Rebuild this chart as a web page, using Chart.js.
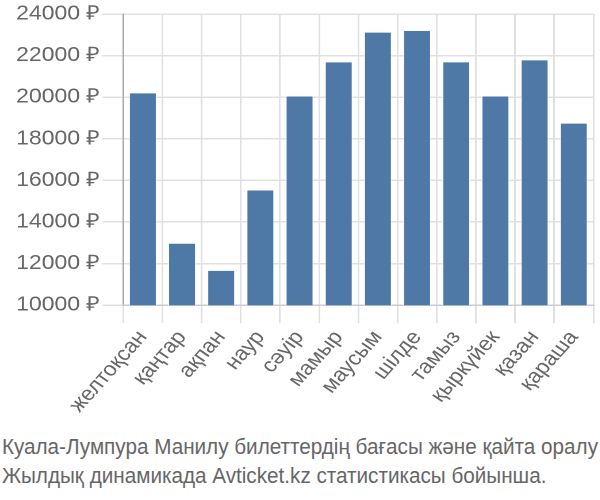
<!DOCTYPE html>
<html>
<head>
<meta charset="utf-8">
<script src="https://cdn.jsdelivr.net/npm/chart.js@4/dist/chart.umd.min.js"></script>
<style>
  html, body { margin: 0; padding: 0; background: #fff; overflow: hidden; }
  /* the chart in the reference is drawn a bit wider than its fonts, so stretch it */
  #wrap {
    position: relative;
    width: 522px;
    height: 420px;
    transform: scaleX(1.15);
    transform-origin: 0 0;
  }
  #caption {
    font-family: "Liberation Sans", sans-serif;
    font-size: 22px;
    color: #666;
    line-height: 29px;
    margin-top: 12px;
    white-space: nowrap;
    display: inline-block;
    transform-origin: 0 0;
    padding-left: 2px;
  }
</style>
</head>
<body>
<div id="wrap"><canvas id="chart"></canvas></div>
<div id="caption">Куала-Лумпура Манилу билеттердің бағасы және қайта оралу<br>Жылдық динамикада Avticket.kz статистикасы бойынша.</div>
<script>
  const months = ["желтоқсан", "қаңтар", "ақпан", "наур", "сәуір", "мамыр",
    "маусым", "шілде", "тамыз", "қыркүйек", "қазан", "қараша"];
  const prices = [20230, 13000, 11700, 15560, 20080, 21720,
    23150, 23230, 21720, 20080, 21820, 18780];
  const yMin = 10000;
  const yMax = 24000;
  const yStep = 2000;

  document.addEventListener("DOMContentLoaded", function () {
    // squeeze the caption so its first line fits the page width
    const caption = document.getElementById("caption");
    const w = caption.getBoundingClientRect().width;
    caption.style.transform = "scaleX(" + (598 / w) + ")";

    const ctx = document.getElementById("chart");
    new Chart(ctx, {
      type: "bar",
      data: {
        labels: months,
        datasets: [
          {
            data: prices,
            backgroundColor: "#4e79a7",
            borderColor: "rgba(255,255,255,0.5)",
            borderWidth: 1,
          },
        ],
      },
      options: {
        responsive: true,
        maintainAspectRatio: false,
        animation: false,
        devicePixelRatio: 2,
        layout: { padding: { top: 6, right: 6, left: 12, bottom: 0 } },
        plugins: {
          legend: { display: false },
          tooltip: { enabled: false },
        },
        scales: {
          y: {
            min: yMin,
            max: yMax,
            ticks: {
              stepSize: yStep,
              color: "#666",
              padding: 2,
              font: { family: "Liberation Sans", size: 20 },
              callback: (v) => v + " ₽",
            },
            grid: { color: "#e0e0e0", lineWidth: 1.5, tickLength: 18 },
            border: { color: "#aaa", width: 1.5 },
          },
          x: {
            ticks: {
              color: "#666",
              autoSkip: false,
              font: { family: "Liberation Sans", size: 20 },
              minRotation: 52,
              maxRotation: 52,
            },
            grid: { color: "#e0e0e0", lineWidth: 1.5, tickLength: 18, offset: true },
            border: { color: "#ccc", width: 1.5 },
          },
        },
      },
    });
  });
</script>
</body>
</html>
